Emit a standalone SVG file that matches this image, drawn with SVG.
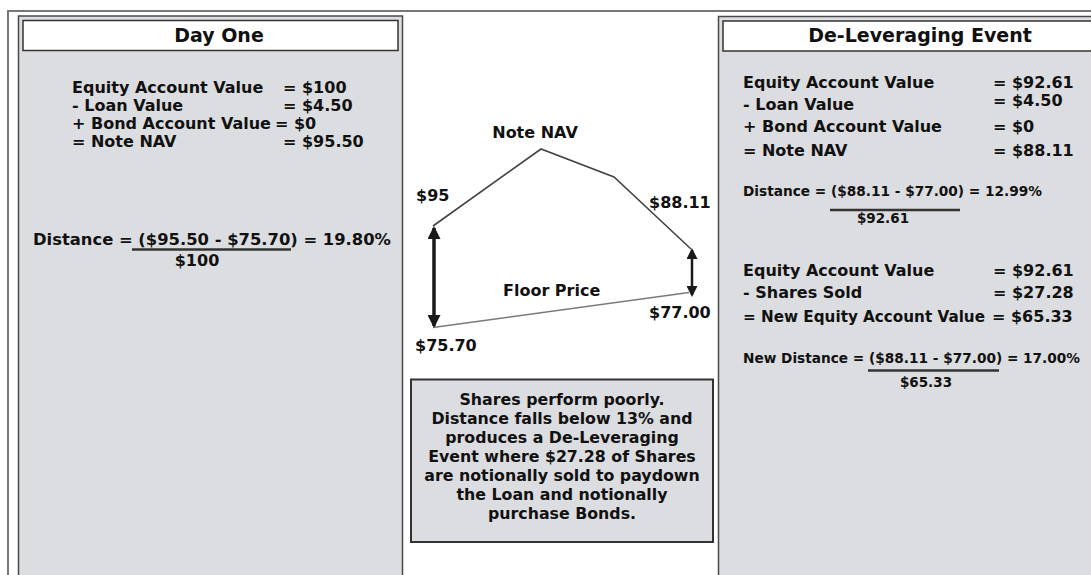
<svg xmlns="http://www.w3.org/2000/svg" width="1091" height="575" viewBox="0 0 1091 575">
<style>
text{font-family:"DejaVu Sans","Verdana",sans-serif;font-weight:bold;fill:#111;}
.h{font-size:19px;text-anchor:middle;}
.b{font-size:16px;}
.s{font-size:13.5px;}
.c{font-size:15.8px;text-anchor:middle;}
.m{text-anchor:middle;}
.panel{fill:#dcdde0;stroke:#4a4a4a;stroke-width:1.5;}
.hdr{fill:#fff;stroke:#333;stroke-width:1.5;}
.frame{fill:none;stroke:#777;stroke-width:2;}
.ul{stroke:#333;stroke-width:2.5;}
</style>
<defs>
<marker id="ahL" markerUnits="userSpaceOnUse" markerWidth="13" markerHeight="13" refX="11" refY="6.5" orient="auto-start-reverse" viewBox="0 0 13 13">
<path d="M0,0 L13,6.5 L0,13 z" fill="#1a1a1a"/>
</marker>
<marker id="ahS" markerUnits="userSpaceOnUse" markerWidth="11" markerHeight="11" refX="9" refY="5.5" orient="auto-start-reverse" viewBox="0 0 11 11">
<path d="M0,0 L11,5.5 L0,11 z" fill="#1a1a1a"/>
</marker>
</defs>
<rect width="1091" height="575" fill="#fff"/>
<path class="frame" d="M8,575 V11 H1091"/>

<g id="day-one">
<rect class="panel" x="18.5" y="16" width="384" height="570"/>
<rect class="hdr" x="23" y="20.5" width="375" height="30"/>
<text class="h" x="219" y="42">Day One</text>
<text class="b" x="72" y="93">Equity Account Value</text>
<text class="b" x="283" y="93">= $100</text>
<text class="b" x="72" y="111">- Loan Value</text>
<text class="b" x="283" y="111">= $4.50</text>
<text class="b" x="72" y="129">+ Bond Account Value</text>
<text class="b" x="275" y="129">= $0</text>
<text class="b" x="72" y="147">= Note NAV</text>
<text class="b" x="283" y="147">= $95.50</text>
<text class="b" x="33" y="245" textLength="358" lengthAdjust="spacingAndGlyphs">Distance = ($95.50 - $75.70) = 19.80%</text>
<line class="ul" x1="132" y1="249.5" x2="291" y2="249.5"/>
<text class="b m" x="197" y="266">$100</text>
</g>

<g id="chart">
<text class="b m" x="535" y="138">Note NAV</text>
<text class="b" x="416" y="201">$95</text>
<text class="b" x="649" y="208">$88.11</text>
<text class="b" x="503" y="296">Floor Price</text>
<text class="b" x="649" y="318">$77.00</text>
<text class="b" x="415" y="351">$75.70</text>
</g>

<g id="connectors">
<polyline points="433,226 541,149 614,177 691,249" fill="none" stroke="#444" stroke-width="1.6"/>
<line x1="433" y1="327.5" x2="689" y2="292.5" stroke="#7a7a7a" stroke-width="1.6"/>
<line x1="434" y1="228" x2="434" y2="326" stroke="#1a1a1a" stroke-width="3.5" marker-start="url(#ahL)" marker-end="url(#ahL)"/>
<line x1="692" y1="250" x2="692" y2="295" stroke="#1a1a1a" stroke-width="2.5" marker-start="url(#ahS)" marker-end="url(#ahS)"/>
</g>

<g id="note">
<rect x="411" y="379.5" width="302" height="162.5" fill="#dcdde0" stroke="#333" stroke-width="2"/>
<text class="c" x="562" y="405">Shares perform poorly.</text>
<text class="c" x="562" y="424">Distance falls below 13% and</text>
<text class="c" x="562" y="443">produces a De-Leveraging</text>
<text class="c" x="562" y="462">Event where $27.28 of Shares</text>
<text class="c" x="562" y="481">are notionally sold to paydown</text>
<text class="c" x="562" y="500">the Loan and notionally</text>
<text class="c" x="562" y="519">purchase Bonds.</text>
</g>

<g id="de-leveraging">
<rect class="panel" x="718.5" y="16.5" width="390" height="570"/>
<rect class="hdr" x="723" y="21" width="380" height="30"/>
<text class="h" x="920" y="42">De-Leveraging Event</text>
<text class="b" x="743" y="88">Equity Account Value</text>
<text class="b" x="993" y="88">= $92.61</text>
<text class="b" x="743" y="110">- Loan Value</text>
<text class="b" x="993" y="106">= $4.50</text>
<text class="b" x="743" y="132">+ Bond Account Value</text>
<text class="b" x="993" y="132">= $0</text>
<text class="b" x="743" y="156">= Note NAV</text>
<text class="b" x="993" y="156">= $88.11</text>
<text class="s" x="743" y="196" textLength="299" lengthAdjust="spacingAndGlyphs">Distance = ($88.11 - $77.00) = 12.99%</text>
<line class="ul" x1="830" y1="210" x2="960" y2="210"/>
<text class="s m" x="883" y="223">$92.61</text>
<text class="b" x="743" y="276">Equity Account Value</text>
<text class="b" x="993" y="276">= $92.61</text>
<text class="b" x="743" y="298">- Shares Sold</text>
<text class="b" x="993" y="298">= $27.28</text>
<text class="b" x="743" y="322" textLength="242" lengthAdjust="spacingAndGlyphs">= New Equity Account Value</text>
<text class="b" x="992" y="322">= $65.33</text>
<text class="s" x="743" y="363" textLength="337" lengthAdjust="spacingAndGlyphs">New Distance = ($88.11 - $77.00) = 17.00%</text>
<line class="ul" x1="868" y1="370.5" x2="999" y2="370.5"/>
<text class="s m" x="926" y="387">$65.33</text>
</g>
</svg>
